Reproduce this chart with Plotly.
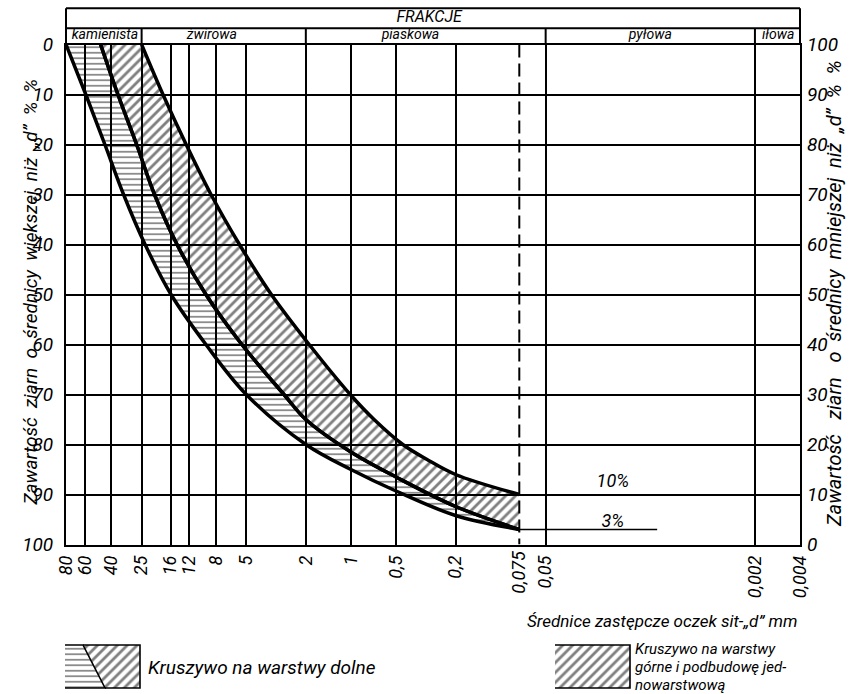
import numpy as np
import plotly.graph_objects as go

W, H = 861, 694
FONT = "Roboto, Liberation Sans, sans-serif"

# ---------------- data ----------------
sieve_ticks = [80, 60, 40, 25, 16, 12, 8, 5, 2, 1, 0.5, 0.2, 0.05, 0.002, 0.001]
sieve_labels = ["80", "60", "40", "25", "16", "12", "8", "5", "2", "1",
                "0,5", "0,2", "0,05", "0,002", "0,004"]
dashed_sieve = [0.075]
dashed_label = ["0,075"]
pct_ticks = [0, 10, 20, 30, 40, 50, 60, 70, 80, 90, 100]

# grading envelope curves: sieve size d [mm] vs % retained (left axis)
left_d = [80, 59, 44, 33, 23.7, 15.9, 9.3, 5.0, 2, 1, 0.5, 0.2, 0.075]
left_p = [0, 10, 20, 30, 40, 50, 60, 70, 80, 85, 89.3, 94.2, 97]
middle_d = [47, 36, 27, 20.5, 14.5, 9.3, 5.35, 2.8, 2, 1, 0.5, 0.2, 0.075]
middle_p = [0, 10, 20, 30, 40, 50, 60, 70, 75, 81.5, 86.5, 92.4, 97]
right_d = [25, 18, 12.6, 8.6, 5.55, 3.4, 1.9, 1.01, 0.70, 0.45, 0.31, 0.2, 0.075]
right_p = [0, 10, 20, 30, 40, 50, 60, 70, 75, 80, 83, 86, 90]

# limits on the passing (right) axis
limit_line_d = [0.075, 0.009]
limit_line_pass = [3, 3]
limit_labels = ["10%", "3%"]
limit_label_d = [0.0178, 0.0178]
limit_label_pass = [12.4, 4.4]

fraction_bounds = [25, 2, 0.05, 0.002]
fraction_names = ["kamienista", "żwirowa", "piaskowa", "pyłowa", "iłowa"]
fraction_name_d = [44, 8.5, 0.4, 0.01, 0.0014]
header_title = ["FRAKCJE"]
header_title_d = [0.3]

legend1_text = "Kruszywo na warstwy dolne"
legend2_lines = ["Kruszywo na warstwy", "górne i podbudowę jed-", "nowarstwową"]

# ---------------- layout geometry ----------------
px_left, px_right, px_top, px_bottom = 66, 800, 44.5, 544.5
hdr_top, hdr_mid = 8.3, 28.3
x_dom = [px_left / W, px_right / W]
y_dom = [1 - px_bottom / H, 1 - px_top / H]
hdr_dom = [1 - px_top / H, 1 - hdr_top / H]
mid_frac = (px_top - hdr_mid) / (px_top - hdr_top)
xrange = [np.log10(sieve_ticks[0]), np.log10(sieve_ticks[-1])]

fig = go.Figure()

hpat = dict(shape="-", fgcolor="black", bgcolor="rgba(0,0,0,0)", size=5.5, solidity=0.3)
dpat = dict(shape="/", fgcolor="black", bgcolor="rgba(0,0,0,0)", size=7, solidity=0.4)
curve_line = dict(color="black", width=3.5, shape="spline", smoothing=1.0)

# lower-layer band (horizontal hatch) between left and middle curves
fig.add_trace(go.Scatter(x=middle_d, y=middle_p, mode="lines", line=curve_line,
                         xaxis="x", yaxis="y", hoverinfo="skip", showlegend=False))
fig.add_trace(go.Scatter(x=left_d, y=left_p, mode="lines", line=curve_line,
                         fill="tonextx", fillcolor="rgba(0,0,0,0)", fillpattern=hpat,
                         xaxis="x", yaxis="y", hoverinfo="skip", showlegend=False))
# upper-layer band (diagonal hatch) between middle and right curves
fig.add_trace(go.Scatter(x=middle_d, y=middle_p, mode="lines", line=curve_line,
                         xaxis="x", yaxis="y", hoverinfo="skip", showlegend=False))
fig.add_trace(go.Scatter(x=right_d, y=right_p, mode="lines", line=curve_line,
                         fill="tonextx", fillcolor="rgba(0,0,0,0)", fillpattern=dpat,
                         xaxis="x", yaxis="y", hoverinfo="skip", showlegend=False))

# dashed 0.075 line (on the overlay x axis that carries the 0,075 label)
fig.add_trace(go.Scatter(x=dashed_sieve * 2, y=[pct_ticks[0], pct_ticks[-1]], mode="lines",
                         line=dict(color="black", width=2, dash="13px,6px"),
                         xaxis="x2", yaxis="y", hoverinfo="skip", showlegend=False))
# 3 % line and limit labels (passing axis)
fig.add_trace(go.Scatter(x=limit_line_d, y=limit_line_pass, mode="lines",
                         line=dict(color="black", width=1.6),
                         xaxis="x", yaxis="y2", hoverinfo="skip", showlegend=False))
fig.add_trace(go.Scatter(x=limit_label_d, y=limit_label_pass, mode="text", text=limit_labels,
                         textfont=dict(family=FONT, size=18, color="black", style="italic"),
                         xaxis="x", yaxis="y2", hoverinfo="skip", showlegend=False, cliponaxis=False))

# header (own log x axis without grid): fraction separators and names
for b in fraction_bounds:
    fig.add_trace(go.Scatter(x=[b, b], y=[0, mid_frac], mode="lines",
                             line=dict(color="black", width=2),
                             xaxis="x4", yaxis="y3", hoverinfo="skip", showlegend=False))
fig.add_trace(go.Scatter(x=fraction_name_d, y=[0.24] * len(fraction_name_d), mode="text",
                         text=fraction_names,
                         textfont=dict(family=FONT, size=14, color="black", style="italic"),
                         xaxis="x4", yaxis="y3", hoverinfo="skip", showlegend=False, cliponaxis=False))
fig.add_trace(go.Scatter(x=header_title_d, y=[0.73], mode="text", text=header_title,
                         textfont=dict(family=FONT, size=16, color="black", style="italic"),
                         xaxis="x4", yaxis="y3", hoverinfo="skip", showlegend=False, cliponaxis=False))

# legend swatches (on a pixel-coordinate helper axis)
sw1_left_x = [65, 83, 105, 65]
sw1_left_y = [645, 645, 688, 688]
sw1_right_x = [83, 140, 140, 105]
sw1_right_y = [645, 645, 688, 688]
sw2_x = [555, 630, 630, 555]
sw2_y = [645, 645, 688, 688]
for xs, ys, pat in [(sw1_left_x, sw1_left_y, hpat), (sw1_right_x, sw1_right_y, dpat),
                    (sw2_x, sw2_y, dpat)]:
    fig.add_trace(go.Scatter(x=xs, y=ys, mode="lines", fill="toself",
                             fillcolor="rgba(0,0,0,0)", fillpattern=pat,
                             line=dict(color="black", width=1.6),
                             xaxis="x3", yaxis="y4", hoverinfo="skip", showlegend=False))

shapes = [
    dict(type="line", xref="x domain", yref="y3 domain", x0=0, x1=1, y0=1, y1=1,
         line=dict(color="black", width=2)),
    dict(type="line", xref="x domain", yref="y3 domain", x0=0, x1=1, y0=mid_frac, y1=mid_frac,
         line=dict(color="black", width=2)),
    dict(type="line", xref="x domain", yref="y3 domain", x0=0, x1=0, y0=0, y1=1,
         line=dict(color="black", width=2)),
    dict(type="line", xref="x domain", yref="y3 domain", x0=1, x1=1, y0=0, y1=1,
         line=dict(color="black", width=2)),
]

annotations = [
    dict(text="Zawartość  ziarn  o  średnicy  większej  niż  „d”  %  %", xref="paper", yref="paper",
         x=16 / W, y=1 - 292 / H, textangle=-90, showarrow=False,
         font=dict(family=FONT, size=19, color="black", style="italic")),
    dict(text="Zawartość   ziarn   o  średnicy  mniejszej  niż  „d”  %  %", xref="paper", yref="paper",
         x=848 / W, y=1 - 294 / H, textangle=-90, showarrow=False,
         font=dict(family=FONT, size=20, color="black", style="italic")),
    dict(text="Średnice zastępcze oczek sit-„d” mm", xref="paper", yref="paper",
         x=799 / W, y=1 - 621 / H, xanchor="right", yanchor="middle", showarrow=False,
         font=dict(family=FONT, size=17, color="black", style="italic")),
    dict(text=legend1_text, xref="x3", yref="y4", x=146, y=667,
         xanchor="left", yanchor="middle", showarrow=False,
         font=dict(family=FONT, size=19, color="black", style="italic")),
]
for i, line in enumerate(legend2_lines):
    annotations.append(dict(text=line, xref="x3", yref="y4", x=633, y=649 + 18 * i,
                            xanchor="left", yanchor="middle", showarrow=False,
                            font=dict(family=FONT, size=15, color="black", style="italic")))

tickfont_y = dict(family=FONT, size=19, color="black", style="italic")
tickfont_x = dict(family=FONT, size=18, color="black", style="italic")

fig.update_layout(
    width=W, height=H,
    margin=dict(l=0, r=0, t=0, b=0, autoexpand=False),
    paper_bgcolor="white", plot_bgcolor="rgba(0,0,0,0)",
    showlegend=False,
    shapes=shapes, annotations=annotations,
    xaxis=dict(type="log", domain=x_dom, range=xrange, anchor="y", automargin=False,
               tickmode="array", tickvals=sieve_ticks, ticktext=sieve_labels,
               tickangle=-90, tickfont=tickfont_x, ticks="", ticklabelstandoff=2,
               showgrid=True, gridcolor="black", gridwidth=1.6, zeroline=False,
               showline=True, linecolor="black", linewidth=2, mirror=True),
    xaxis2=dict(type="log", overlaying="x", range=xrange, anchor="y", side="bottom",
                automargin=False,
                tickmode="array", tickvals=dashed_sieve, ticktext=dashed_label,
                tickangle=-90, tickfont=tickfont_x, ticks="", ticklabelstandoff=2,
                showgrid=False, zeroline=False, showline=False),
    xaxis4=dict(type="log", domain=x_dom, range=xrange, anchor="y3", automargin=False,
                showticklabels=False, ticks="", showgrid=False, zeroline=False, showline=False),
    yaxis=dict(domain=y_dom, range=[pct_ticks[-1], pct_ticks[0]], anchor="x", automargin=False,
               tickmode="array", tickvals=pct_ticks, tickfont=tickfont_y, ticks="",
               ticklabelstandoff=7,
               showgrid=True, gridcolor="black", gridwidth=1.6, zeroline=False,
               showline=True, linecolor="black", linewidth=2, mirror=True),
    yaxis2=dict(overlaying="y", side="right", anchor="x", range=[pct_ticks[0], pct_ticks[-1]],
                automargin=False,
                tickmode="array", tickvals=pct_ticks, tickfont=tickfont_y, ticks="",
                ticklabelstandoff=6, showgrid=False, zeroline=False, showline=False),
    yaxis3=dict(domain=hdr_dom, range=[0, 1], anchor="x4", showticklabels=False, ticks="",
                automargin=False, showgrid=False, zeroline=False, showline=False),
    xaxis3=dict(domain=[0, 1], range=[0, W], anchor="y4", visible=False, automargin=False),
    yaxis4=dict(domain=[0, 70 / H], range=[H, H - 70], anchor="x3", visible=False,
                automargin=False),
)

fig.write_html("out.html",
               config={"displayModeBar": False},
               post_script="document.body.style.margin='0';"
                           "document.documentElement.style.overflow='hidden';")
